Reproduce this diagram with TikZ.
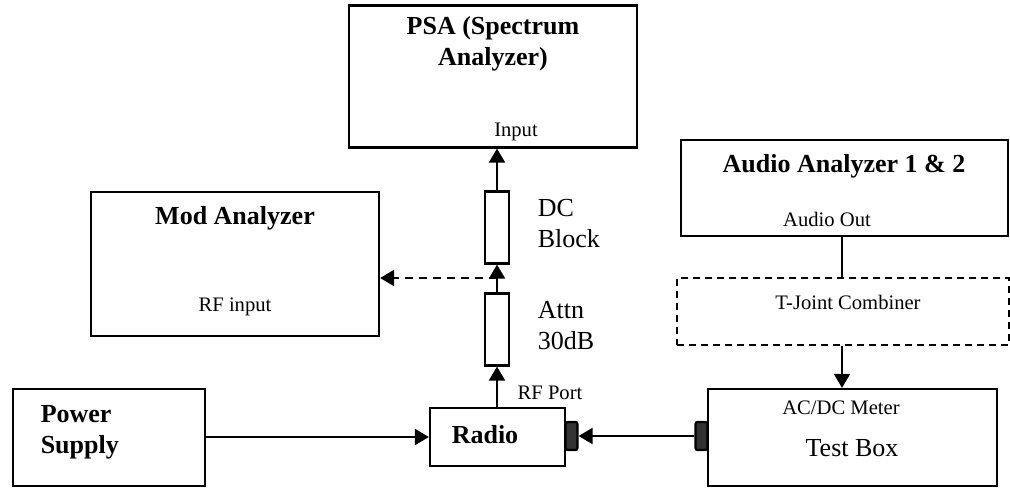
\documentclass[tikz,border=0pt]{standalone}
\usepackage{fontspec}
\setmainfont{Liberation Serif}
\usetikzlibrary{arrows.meta}
\begin{document}
\begin{tikzpicture}[x=0.5pt, y=-0.5pt, line width=1.1pt,
  box/.style={draw, rectangle, inner sep=0pt},
  res/.style={draw, rectangle, inner sep=0pt, minimum width=12pt, minimum height=36pt},
  port/.style={draw, fill=black!80, rounded corners=1pt, inner sep=0pt, minimum width=6pt, minimum height=14pt},
  arr/.style={-{Triangle[length=7pt,width=8pt]}},
  big/.style={font=\fontsize{13}{15.5}\selectfont\bfseries, align=center},
  lbl/.style={font=\fontsize{13}{15.5}\selectfont, align=left},
  small/.style={font=\fontsize{10.3}{12}\selectfont}]
\useasboundingbox (0,0) rectangle (1010,487);
% boxes
\node[box, minimum width=144pt, minimum height=71pt] (psa) at (493,76.5) {};
\node[box, minimum width=144pt, minimum height=72pt] (mod) at (235,264) {};
\node[box, minimum width=163.5pt, minimum height=48pt] (audio) at (844.5,188) {};
\node[box, dashed, dash pattern=on 3.5pt off 2.5pt, minimum width=166pt, minimum height=33.5pt] (tjoint) at (843,311.5) {};
\node[box, minimum width=96pt, minimum height=48.5pt] (power) at (109,437.5) {};
\node[box, minimum width=67.5pt, minimum height=29pt] (radio) at (497.5,437) {};
\node[box, minimum width=144.5pt, minimum height=48.5pt] (test) at (852.5,437.5) {};
\node[res] (dcblock) at (497,227.5) {};
\node[res] (attn) at (497,329.5) {};
\node[port] (radioport) at (571.5,436) {};
\node[port] (testport) at (701.5,436) {};
% texts
\node[big] at (493,44) {PSA (Spectrum\\Analyzer)};
\node[small] at (516,132) {Input};
\node[big] at (235,218) {Mod Analyzer};
\node[small] at (235,307) {RF input};
\node[big] at (844,166) {Audio Analyzer 1 \& 2};
\node[small] at (827,219) {Audio Out};
\node[small] at (848,302) {T-Joint Combiner};
\node[small] at (841,408) {AC/DC Meter};
\node[lbl] at (852,448) {Test Box};
\node[big, align=left, anchor=west] at (33,432) {Power\\Supply};
\node[big] at (485,435) {Radio};
\node[small] at (550,393) {RF Port};
\node[lbl, anchor=west] at (530,224) {DC\\Block};
\node[lbl, anchor=west] at (530,326) {Attn\\30dB};
% connectors
\coordinate (tap) at (497,278);
\coordinate (aout) at (842,236);
\draw[arr] (radio.north -| attn) -- (attn.south);
\draw[arr] (attn.north) -- (dcblock.south);
\draw[arr] (dcblock.north) -- (dcblock.north |- psa.south);
\draw[arr, dashed, dash pattern=on 4pt off 3pt] (tap) -- (tap -| mod.east);
\draw[arr] (power.east |- radio) -- (radio.west);
\draw[arr] (testport.west) -- (radioport.east);
\draw (aout) -- (aout |- tjoint.north);
\draw[arr] (aout |- tjoint.south) -- (aout |- test.north);
\end{tikzpicture}
\end{document}
